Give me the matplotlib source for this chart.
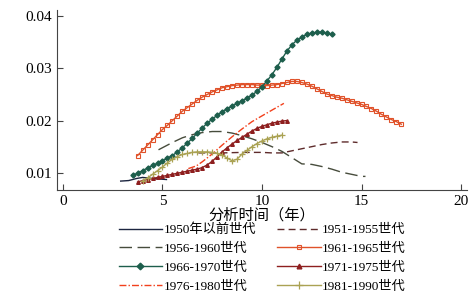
import numpy as np
import matplotlib
matplotlib.use('Agg')
from matplotlib import pyplot as plt

plt.rcParams['font.family'] = ['Liberation Serif', 'Noto Sans CJK SC']

labels = ['1950年以前世代', '1951-1955世代', '1956-1960世代', '1961-1965世代',
          '1966-1970世代', '1971-1975世代', '1976-1980世代', '1981-1990世代']

# cohort 1950
x50 = [2.9, 3.3, 3.7, 4.0, 4.5, 5.2]
y50 = [0.0084, 0.0085, 0.0089, 0.0091, 0.0089, 0.0087]

# cohort 1951-1955
x51 = [6.8, 7.5, 8.0, 9.0, 10.0, 10.5, 11.0, 11.5, 12.0, 12.5, 13.0, 13.5, 14.0, 14.5, 14.8]
y51 = [0.0138, 0.0138, 0.0138, 0.0139, 0.0139, 0.0138, 0.0138, 0.0142, 0.0146, 0.0150,
       0.0154, 0.0157, 0.0159, 0.0159, 0.0158]

# cohort 1956-1960
x56 = [4.8, 5.5, 6.0, 6.5, 7.0, 7.5, 8.0, 8.5, 9.0, 9.5, 10.0, 10.5, 11.0, 11.5, 12.0,
       12.5, 13.0, 13.5, 14.0, 14.5, 15.0, 15.2]
y56 = [0.0144, 0.0158, 0.0167, 0.0173, 0.0177, 0.0179, 0.0179, 0.0176, 0.0171, 0.0165,
       0.0158, 0.0150, 0.0141, 0.0129, 0.0117, 0.0116, 0.0112, 0.0107, 0.0101, 0.0097,
       0.0093, 0.0093]

# cohort 1961-1965
x61 = np.arange(3.75, 17.01, 0.25)
y61 = [0.0133, 0.0143, 0.0153, 0.0163, 0.0173, 0.0183, 0.0191, 0.0200, 0.0209, 0.0218,
       0.0225, 0.0232, 0.0239, 0.0245, 0.0250, 0.0255, 0.0259, 0.0263, 0.0265, 0.0267,
       0.0268, 0.0269, 0.0269, 0.0269, 0.0268, 0.0268, 0.0267, 0.0268, 0.0269, 0.0271,
       0.0273, 0.0275, 0.0275, 0.0273, 0.0270, 0.0266, 0.0261, 0.0256, 0.0251, 0.0248,
       0.0245, 0.0243, 0.0240, 0.0237, 0.0234, 0.0231, 0.0227, 0.0223, 0.0218, 0.0212,
       0.0207, 0.0202, 0.0198, 0.0193]

# cohort 1966-1970
x66 = np.arange(3.5, 13.51, 0.25)
y66 = [0.0095, 0.0099, 0.0104, 0.0109, 0.0114, 0.0118, 0.0123, 0.0128, 0.0133, 0.0140,
       0.0148, 0.0157, 0.0166, 0.0176, 0.0186, 0.0195, 0.0203, 0.0210, 0.0217, 0.0223,
       0.0228, 0.0233, 0.0238, 0.0243, 0.0249, 0.0256, 0.0265, 0.0276, 0.0288, 0.0302,
       0.0318, 0.0333, 0.0345, 0.0354, 0.0360, 0.0365, 0.0368, 0.0369, 0.0369, 0.0367,
       0.0365]

# cohort 1971-1975
x71 = np.arange(3.75, 11.26, 0.25)
y71 = [0.0082, 0.0085, 0.0087, 0.0089, 0.0091, 0.0093, 0.0095, 0.0097, 0.0099, 0.0101,
       0.0103, 0.0105, 0.0107, 0.0110, 0.0115, 0.0122, 0.0131, 0.0140, 0.0148, 0.0155,
       0.0162, 0.0168, 0.0174, 0.0180, 0.0185, 0.0189, 0.0192, 0.0195, 0.0197, 0.0199,
       0.0200]

# cohort 1976-1980
x76 = [6.3, 6.7, 7.0, 7.5, 8.0, 8.5, 9.0, 9.5, 10.0, 10.5, 11.1]
y76 = [0.0108, 0.0113, 0.0121, 0.0136, 0.0153, 0.0169, 0.0184, 0.0198, 0.0209, 0.0220, 0.0233]

# cohort 1981-1990
x81 = np.arange(4.0, 11.01, 0.25)
y81 = [0.0084, 0.0090, 0.0097, 0.0104, 0.0111, 0.0119, 0.0126, 0.0131, 0.0135, 0.0137,
       0.0139, 0.0140, 0.0140, 0.0140, 0.0139, 0.0137, 0.0134, 0.0128, 0.0123, 0.0126,
       0.0136, 0.0143, 0.0150, 0.0156, 0.0161, 0.0165, 0.0168, 0.0170, 0.0172]

xticks = [0, 5, 10, 15, 20]
yticks = [0.01, 0.02, 0.03, 0.04]

fig = plt.figure(figsize=(4.77, 3.02), dpi=100)
ax = fig.add_axes([0.1195, 0.371, 0.8595, 0.596])

ax.plot(x50, y50, color='#1c2540', lw=1.0, label=labels[0])
ax.plot(x51, y51, color='#5e2b2b', lw=1.0, dashes=(5, 3), label=labels[1])
ax.plot(x56, y56, color='#474c3c', lw=1.0, dashes=(9, 4), label=labels[2])
ax.plot(x61, y61, color='#e0522a', lw=1.0, marker='s', ms=2.4, mfc='none', mew=0.8,
        label=labels[3])
ax.plot(x66, y66, color='#1d5e4c', lw=1.0, marker='D', ms=2.6, label=labels[4])
ax.plot(x71, y71, color='#8e1f1f', lw=1.0, marker='^', ms=2.6, label=labels[5])
ax.plot(x76, y76, color='#f2401c', lw=1.0, dashes=(5, 1.5, 1, 1.5), label=labels[6])
ax.plot(x81, y81, color='#aaa253', lw=1.0, marker='+', ms=4.5, mew=0.9, label=labels[7])

ax.set_xlim(-0.3, 20.3)
ax.set_ylim(0.0067, 0.0412)
ax.set_xticks(xticks)
ax.set_yticks(yticks)
ax.set_yticklabels(['0.01', '0.02', '0.03', '0.04'])
ax.tick_params(direction='in', labelsize=11, length=4, color='#444444')
ax.spines['top'].set_visible(False)
ax.spines['right'].set_visible(False)
ax.spines['left'].set_color('#444444')
ax.spines['bottom'].set_color('#444444')
ax.set_xlabel('分析时间（年）', fontsize=11, labelpad=0)

# row-major order for the two-column legend
handles, names = ax.get_legend_handles_labels()
order = [0, 2, 4, 6, 1, 3, 5, 7]
fig.legend([handles[i] for i in order], [names[i] for i in order],
           loc='upper center', bbox_to_anchor=(0.55, 0.29), ncol=2, frameon=False,
           fontsize=9.5, handlelength=3.3, handletextpad=0.1, columnspacing=1.6,
           labelspacing=0.5, numpoints=1, markerscale=1.3, borderpad=0.2)

fig.savefig('out.png', dpi=100)
